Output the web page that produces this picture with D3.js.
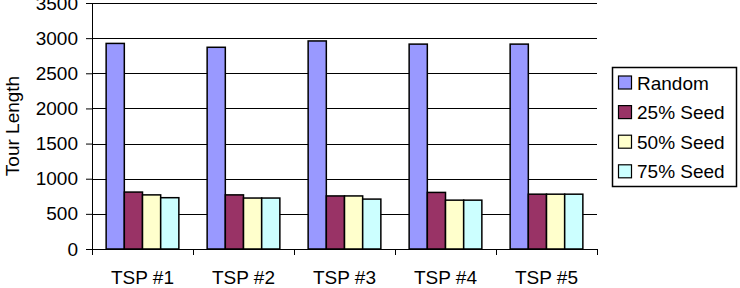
<!DOCTYPE html>
<html>
<head>
<meta charset="utf-8">
<script src="https://cdn.jsdelivr.net/npm/d3@7"></script>
<style>
  body { margin: 0; background: #fff; }
  text { font-family: "Liberation Sans", Arial, sans-serif; fill: #000; }
</style>
</head>
<body>
<svg id="chart" width="740" height="288"></svg>
<script>
// 各 TSP 实例在不同初始种子比例下的路径长度
const categories = ['TSP #1', 'TSP #2', 'TSP #3', 'TSP #4', 'TSP #5'];
const seriesNames = ['Random', '25% Seed', '50% Seed', '75% Seed'];
const seriesColors = ['#9999ff', '#993366', '#ffffcc', '#ccffff'];
const randomValues = [2925, 2870, 2960, 2915, 2915];
const seed25Values = [810, 770, 755, 805, 780];
const seed50Values = [770, 725, 755, 695, 780];
const seed75Values = [730, 725, 710, 695, 780];
const yTicks = [0, 500, 1000, 1500, 2000, 2500, 3000, 3500];

const seriesValues = [randomValues, seed25Values, seed50Values, seed75Values];
const FONT_SIZE = '19px';

const svg = d3.select('#chart');
const margin = { top: 3, left: 92, right: 143, bottom: 39 };
const width = 740 - margin.left - margin.right;
const height = 288 - margin.top - margin.bottom;

const g = svg.append('g').attr('transform', `translate(${margin.left},${margin.top})`);

const x0 = d3.scaleBand().domain(categories).range([0, width]).paddingInner(0.28).paddingOuter(0.14);
const x1 = d3.scaleBand().domain(seriesNames).range([0, x0.bandwidth()]);
const y = d3.scaleLinear().domain([0, 3500]).range([height, 0]);

// 横向网格线
g.selectAll('.grid')
  .data(yTicks)
  .join('line')
  .attr('class', 'grid')
  .attr('x1', 0)
  .attr('x2', width)
  .attr('y1', (d) => Math.round(y(d)) + 0.5)
  .attr('y2', (d) => Math.round(y(d)) + 0.5)
  .attr('stroke', '#000')
  .attr('stroke-width', 1);

// 柱子
const groups = g.selectAll('.group')
  .data(categories)
  .join('g')
  .attr('class', 'group')
  .attr('transform', (d) => `translate(${x0(d)},0)`);

groups.selectAll('rect')
  .data((c, ci) => seriesNames.map((s, si) => ({ s, si, v: seriesValues[si][ci] })))
  .join('rect')
  .attr('x', (d) => x1(d.s))
  .attr('y', (d) => y(d.v))
  .attr('width', x1.bandwidth())
  .attr('height', (d) => height - y(d.v))
  .attr('fill', (d) => seriesColors[d.si])
  .attr('stroke', '#000')
  .attr('stroke-width', 1.5);

// Y 轴
const yAxis = d3.axisLeft(y).tickValues(yTicks).tickSize(6).tickPadding(8).tickFormat(d3.format('d'));
g.append('g')
  .attr('class', 'y-axis')
  .call(yAxis)
  .call((sel) => sel.select('.domain').attr('d', `M0.5,0V${height}`).attr('stroke', '#000'))
  .call((sel) => sel.selectAll('text').style('font-size', FONT_SIZE).style('font-family', '"Liberation Sans", Arial, sans-serif'));

// X 轴：刻度在类别边界
const xAxisG = g.append('g').attr('transform', `translate(0,${height})`);
xAxisG.append('line')
  .attr('x1', 0).attr('x2', width)
  .attr('y1', 0.5).attr('y2', 0.5)
  .attr('stroke', '#000');
const step = width / categories.length;
xAxisG.selectAll('.xtick')
  .data(d3.range(categories.length + 1))
  .join('line')
  .attr('x1', (i) => Math.round(i * step) + 0.5)
  .attr('x2', (i) => Math.round(i * step) + 0.5)
  .attr('y1', 0)
  .attr('y2', 6)
  .attr('stroke', '#000');
xAxisG.selectAll('.xlabel')
  .data(categories)
  .join('text')
  .attr('x', (d) => x0(d) + x0.bandwidth() / 2)
  .attr('y', 35)
  .attr('text-anchor', 'middle')
  .style('font-size', FONT_SIZE)
  .text((d) => d);

// Y 轴标题
svg.append('text')
  .attr('transform', `translate(19,${margin.top + 123}) rotate(-90)`)
  .attr('text-anchor', 'middle')
  .style('font-size', FONT_SIZE)
  .text('Tour Length');

// 图例
const legend = svg.append('g').attr('transform', 'translate(612,67)');
legend.append('rect')
  .attr('x', 0.5).attr('y', 0.5)
  .attr('width', 124).attr('height', 119)
  .attr('fill', '#fff')
  .attr('stroke', '#000')
  .attr('stroke-width', 1.5);
const items = legend.selectAll('.item')
  .data(seriesNames)
  .join('g')
  .attr('transform', (_, i) => `translate(6,${15.5 + i * 29.6})`);
items.append('rect')
  .attr('x', 0.5).attr('y', -6.5)
  .attr('width', 13).attr('height', 13)
  .attr('fill', (_, i) => seriesColors[i])
  .attr('stroke', '#000')
  .attr('stroke-width', 1.2);
items.append('text')
  .attr('x', 19)
  .attr('y', 7)
  .style('font-size', FONT_SIZE)
  .text((d) => d);
</script>
</body>
</html>
